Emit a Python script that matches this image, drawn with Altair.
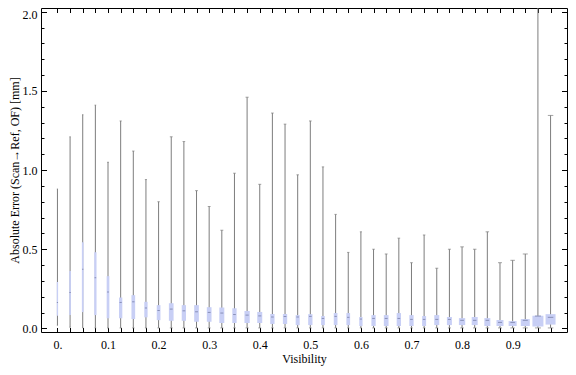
import altair as alt
import pandas as pd

visibility = [0.0, 0.025, 0.05, 0.075, 0.1, 0.125, 0.15, 0.175, 0.2, 0.225,
              0.25, 0.275, 0.3, 0.325, 0.35, 0.375, 0.4, 0.425, 0.45, 0.475,
              0.5, 0.525, 0.55, 0.575, 0.6, 0.625, 0.65, 0.675, 0.7, 0.725,
              0.75, 0.775, 0.8, 0.825, 0.85, 0.875, 0.9, 0.925, 0.95, 0.975]

whisker_max = [0.88, 1.21, 1.35, 1.41, 1.05, 1.31, 1.12, 0.94, 0.80, 1.21,
               1.18, 0.87, 0.77, 0.62, 0.98, 1.46, 0.91, 1.36, 1.29, 0.97,
               1.31, 1.02, 0.72, 0.48, 0.61, 0.50, 0.47, 0.57, 0.415, 0.59,
               0.38, 0.50, 0.515, 0.50, 0.61, 0.415, 0.43, 0.47, 2.60, 1.345]

q3 = [0.293, 0.362, 0.544, 0.481, 0.330, 0.195, 0.210, 0.168, 0.147, 0.159,
      0.147, 0.147, 0.134, 0.132, 0.127, 0.110, 0.104, 0.091, 0.091, 0.084,
      0.090, 0.078, 0.097, 0.097, 0.072, 0.084, 0.084, 0.097, 0.084, 0.078,
      0.084, 0.072, 0.065, 0.072, 0.065, 0.053, 0.046, 0.059, 0.080, 0.090]

median = [0.164, 0.226, 0.373, 0.320, 0.230, 0.164, 0.168, 0.129, 0.113, 0.122,
          0.111, 0.105, 0.101, 0.097, 0.088, 0.084, 0.079, 0.072, 0.075, 0.072,
          0.076, 0.063, 0.076, 0.070, 0.059, 0.063, 0.063, 0.063, 0.057, 0.057,
          0.057, 0.057, 0.051, 0.051, 0.051, 0.038, 0.038, 0.051, 0.078, 0.070]

q1 = [0.080, 0.084, 0.103, 0.084, 0.064, 0.064, 0.059, 0.070, 0.052, 0.048,
      0.048, 0.042, 0.042, 0.034, 0.034, 0.034, 0.034, 0.028, 0.028, 0.021,
      0.021, 0.021, 0.021, 0.021, 0.015, 0.015, 0.015, 0.015, 0.015, 0.015,
      0.021, 0.021, 0.021, 0.021, 0.015, 0.015, 0.015, 0.015, 0.012, 0.024]

whisker_min = [0.020, 0.007, 0.004, 0.003, 0.003, 0.003, 0.003, 0.003, 0.003, 0.003,
               0.003, 0.003, 0.003, 0.003, 0.003, 0.003, 0.003, 0.003, 0.003, 0.003,
               0.003, 0.003, 0.003, 0.003, 0.003, 0.003, 0.003, 0.003, 0.003, 0.003,
               0.003, 0.003, 0.003, 0.003, 0.003, 0.003, 0.003, 0.003, 0.003, 0.003]

# relative sample weight (drives box width)
weight = [13, 17, 17, 23, 27, 33, 37, 33, 37, 47,
          43, 47, 47, 50, 43, 53, 50, 43, 43, 40,
          43, 37, 37, 37, 33, 43, 47, 43, 43, 40,
          50, 50, 63, 60, 60, 70, 80, 90, 110, 100]

x_labels = [0.0, 0.1, 0.2, 0.3, 0.4, 0.5, 0.6, 0.7, 0.8, 0.9]
y_major = [0.0, 0.5, 1.0, 1.5, 2.0]
y_minor = [round(0.1 * i, 1) for i in range(21)]

df = pd.DataFrame({
    "vis": visibility, "hi": whisker_max, "q3": q3, "med": median,
    "q1": q1, "lo": whisker_min, "w": weight,
})

FONT = "Liberation Serif"
xs = alt.Scale(domain=[-0.0325, 1.0075], nice=False, zero=False, padding=0)
ys = alt.Scale(domain=[-0.0227, 2.0234], nice=False, zero=False, padding=0)

base = alt.Chart(df)

whisk = base.mark_rule(color="#7d7d7d", strokeWidth=1, clip=True).encode(
    x=alt.X("vis:Q", scale=xs, axis=alt.Axis(
        orient="bottom", values=x_labels, ticks=False, tickSize=0, domain=False, grid=False,
        labelExpr="datum.value == 0 ? '0.' : format(datum.value, '.1f')",
        labelPadding=7, labelFont=FONT, labelFontSize=12, labelColor="#000",
        title="Visibility", titleFont=FONT, titleFontSize=12, titleFontWeight="normal",
        titleColor="#000", titlePadding=3.5)),
    y=alt.Y("lo:Q", scale=ys, axis=alt.Axis(
        orient="left", values=y_major, format=".1f", tickSize=5.5, offset=-5.5,
        tickColor="#000", domain=False, grid=False,
        labelOffset=alt.ConditionalAxisNumber(condition={"test": "datum.value >= 2", "value": 2.5}, value=0),
        labelPadding=4, labelFont=FONT, labelFontSize=12, labelColor="#000",
        title="Absolute Error (Scan\u2192Ref, OF) [mm]", titleFont=FONT, titleFontSize=12,
        titleFontWeight="normal", titleColor="#000", titlePadding=0.5)),
    y2="hi:Q",
)

box = base.mark_bar(color="#c8cff5", clip=True).encode(
    x=alt.X("vis:Q", scale=xs, axis=alt.Axis(
        orient="bottom", values=visibility, labels=False, tickSize=4.5, offset=-4.5,
        tickColor="#000", domain=False, grid=False, title=None)),
    y=alt.Y("q1:Q", scale=ys, axis=alt.Axis(
        orient="left", values=y_minor, labels=False, tickSize=3, offset=-3,
        tickColor="#000", domain=False, grid=False, title=None)),
    y2="q3:Q",
    size=alt.Size("w:Q", scale=alt.Scale(domain=[0, 110], range=[0, 11]), legend=None),
)

med = base.mark_tick(color="#7880a8", opacity=0.8, thickness=1, orient="horizontal", clip=True).encode(
    x=alt.X("vis:Q", scale=xs, axis=alt.Axis(
        orient="top", values=visibility, labels=False, tickSize=4.5, offset=-4.5,
        tickColor="#000", domain=False, grid=False, title=None)),
    y=alt.Y("med:Q", scale=ys, axis=alt.Axis(
        orient="right", values=y_major, labels=False, tickSize=5.5, offset=-5.5,
        tickColor="#000", domain=False, grid=False, title=None)),
    size=alt.Size("w:Q", scale=alt.Scale(domain=[0, 110], range=[0.5, 6]), legend=None),
)

cap_hi = base.mark_tick(color="#7d7d7d", thickness=1, orient="horizontal", clip=True).encode(
    x=alt.X("vis:Q", scale=xs, axis=None),
    y=alt.Y("hi:Q", scale=ys, axis=alt.Axis(
        orient="right", values=y_minor, labels=False, tickSize=3, offset=-3,
        tickColor="#000", domain=False, grid=False, title=None)),
    size=alt.Size("w:Q", scale=alt.Scale(domain=[0, 110], range=[0.5, 6]), legend=None),
)

cap_lo = base.mark_tick(color="#7d7d7d", thickness=1, orient="horizontal", clip=True).encode(
    x=alt.X("vis:Q", scale=xs, axis=None),
    y=alt.Y("lo:Q", scale=ys, axis=None),
    size=alt.Size("w:Q", scale=alt.Scale(domain=[0, 110], range=[0.5, 6]), legend=None),
)

chart = alt.layer(whisk, box, med, cap_hi, cap_lo).resolve_axis(
    x="independent", y="independent"
).resolve_scale(size="independent").properties(
    width=526, height=324,
    autosize=alt.AutoSizeParams(type="none"),
    padding={"left": 33, "top": 0, "right": 1, "bottom": 35},
    background="white",
).configure_view(stroke="#000", strokeWidth=1)

chart.save("out.html", embed_options={"renderer": "svg", "actions": False})
